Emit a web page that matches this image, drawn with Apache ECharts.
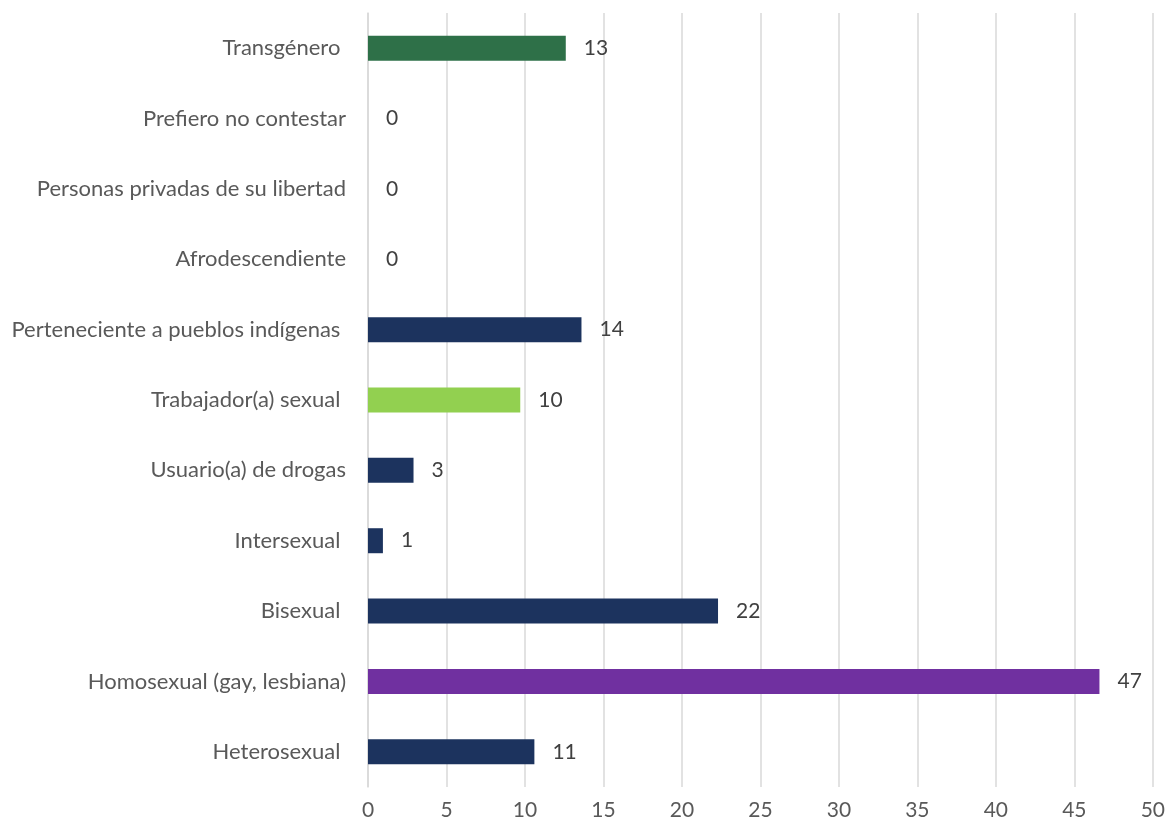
<!DOCTYPE html>
<html><head><meta charset="utf-8">
<script src="https://cdn.jsdelivr.net/npm/echarts@6/dist/echarts.min.js"></script>
<style>html,body{margin:0;padding:0;background:#fff}#c{width:1168px;height:826px}</style>
</head><body><div id="c"></div>
<script>
// categories bottom to top
const categories = ['Heterosexual ', 'Homosexual (gay, lesbiana)', 'Bisexual ', 'Intersexual ', 'Usuario(a) de drogas', 'Trabajador(a) sexual ', 'Perteneciente a pueblos indígenas ', 'Afrodescendiente', 'Personas privadas de su libertad', 'Prefiero no contestar', 'Transgénero '];
const values = [10.6, 46.6, 22.3, 0.95, 2.9, 9.7, 13.6, 0, 0, 0, 12.6];
const barColors = ['#1C335E', '#7030A0', '#1C335E', '#1C335E', '#1C335E', '#92D050', '#1C335E', '#1C335E', '#1C335E', '#1C335E', '#2E7048'];
const xTicks = [0, 5, 10, 15, 20, 25, 30, 35, 40, 45, 50];

const chart = echarts.init(document.getElementById('c'), null, {renderer: 'canvas'});
const font = 'Lato';
chart.setOption({
  animation: false,
  grid: {left: 368, right: 15, top: 13, bottom: 39, containLabel: false},
  xAxis: {
    type: 'value', min: xTicks[0], max: xTicks[xTicks.length - 1], interval: 5,
    axisLine: {show: false}, axisTick: {show: false},
    splitLine: {show: true, lineStyle: {color: '#D9D9D9', width: 1.5}},
    axisLabel: {color: '#595959', fontFamily: font, fontSize: 21, margin: 13}
  },
  yAxis: {
    type: 'category', data: categories,
    axisLine: {show: true, lineStyle: {color: '#D9D9D9', width: 1.5}},
    axisTick: {show: false},
    axisLabel: {color: '#595959', fontFamily: font, fontSize: 22, margin: 22}
  },
  series: [{
    type: 'bar',
    data: values.map((v, i) => ({value: v, itemStyle: {color: barColors[i]}})),
    barWidth: 25,
    label: {
      show: true, position: 'right', distance: 18,
      color: '#404040', fontFamily: font, fontSize: 21,
      formatter: p => String(Math.round(p.value))
    }
  }]
});
</script></body></html>
